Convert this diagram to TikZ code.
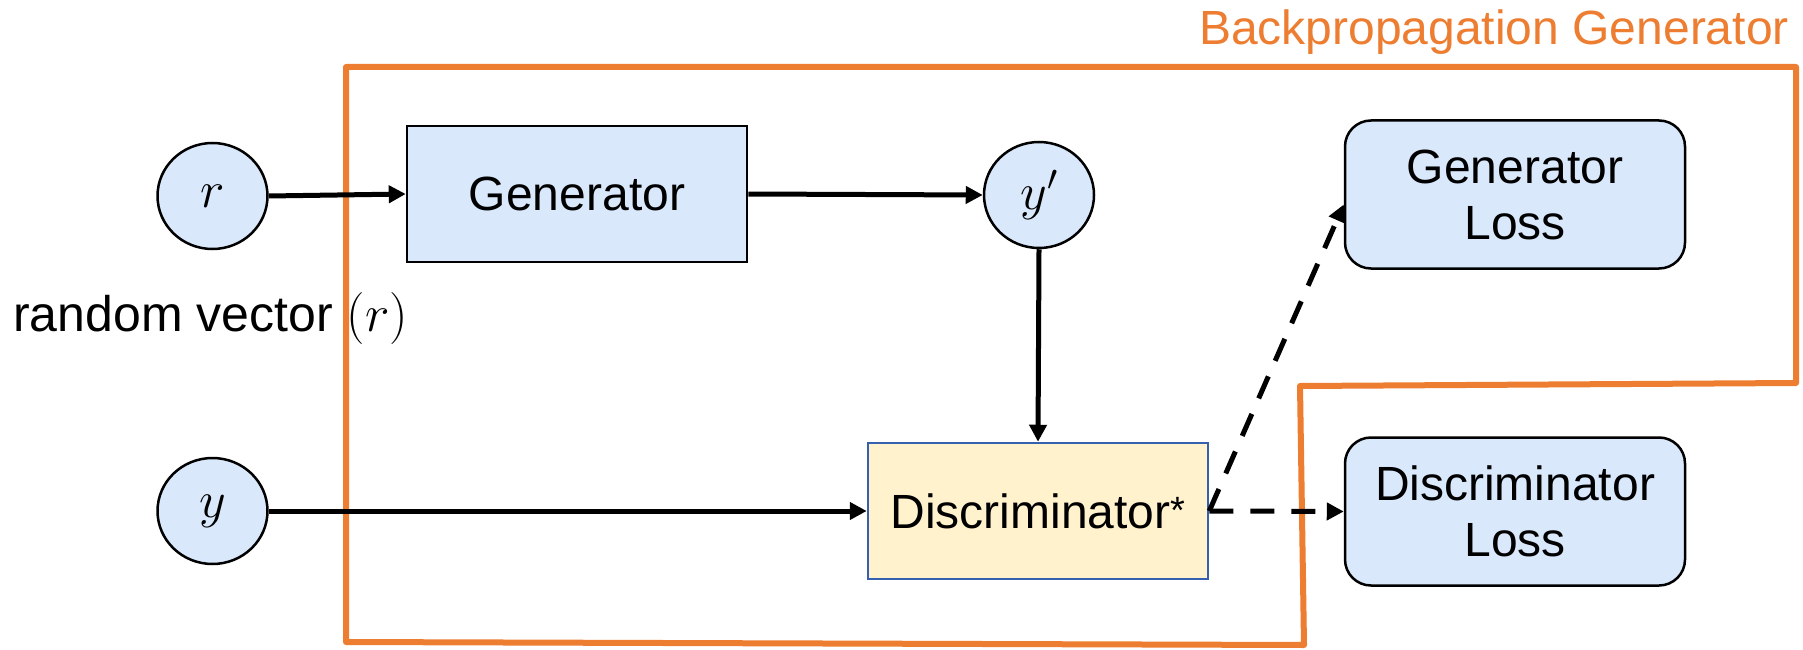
\RequirePackage{fix-cm}
\documentclass[tikz,border=0pt]{standalone}
\usepackage{fontspec}
\setmainfont{Liberation Sans}
\usetikzlibrary{arrows.meta,shapes.geometric}
\definecolor{blockblue}{HTML}{DAE8FC}
\definecolor{discfill}{HTML}{FFF2CC}
\definecolor{discedge}{HTML}{3560B0}
\definecolor{bporange}{HTML}{ED7D31}
\tikzset{
  base/.style={font=\fontsize{48}{56}\selectfont, inner sep=0pt, align=center},
  var/.style={base, font=\fontsize{52}{56}\selectfont, ellipse, draw=black,
    line width=2.5pt, fill=blockblue, minimum width=110pt, minimum height=106pt},
  blockbox/.style={base, rectangle, draw=black, line width=2.5pt, fill=blockblue,
    minimum width=340pt, minimum height=136pt},
  discbox/.style={base, rectangle, draw=discedge, line width=2.5pt, fill=discfill,
    minimum width=340pt, minimum height=136pt},
  lossbox/.style={base, rectangle, rounded corners=26pt, draw=black, line width=2.5pt,
    fill=blockblue, minimum width=340pt, minimum height=148pt},
  flow/.style={line width=5pt, -{Triangle[length=17pt,width=17pt]}},
  lossflow/.style={flow, dash pattern=on 24pt off 17pt},
  bpframe/.style={draw=bporange, line width=6pt, line join=round}
}
\begin{document}
\begin{tikzpicture}[x=1pt, y=-1pt]
\useasboundingbox (0,0) rectangle (1803,650);

% backpropagation region
\draw[bpframe] (346,67) -- (1796,67) -- (1796,383) -- (1300,386)
  -- (1304,645) -- (346,642) -- cycle;
\node[base, text=bporange, anchor=base east] (bplabel) at (1789,45)
  {Backpropagation Generator};

% inputs
\node[var] (r) at (212.5,196) {$r$};
\node[var] (y) at (212.5,511) {$y$};
\node[base, font=\fontsize{50}{56}\selectfont, anchor=base west] (rlabel) at (13,331)
  {random vector\hspace{14pt}{\fontsize{52}{56}\selectfont$(r)$}};

% network blocks
\node[blockbox] (gen) at (577,194) {Generator};
\node[var] (yp) at (1039,195) {$y'$};
\node[discbox] (disc) at (1038,511)
  {Discriminator\raisebox{5pt}{\fontsize{38}{38}\selectfont*}};

% losses
\node[lossbox] (gl) at (1515,194.5) {Generator\\Loss};
\node[lossbox] (dl) at (1515,511.5) {Discriminator\\Loss};

% connectors
\draw[flow] (r.east) -- (gen.west);
\draw[flow] (gen.east) -- (yp.west);
\draw[flow] (yp.south) -- (disc.north);
\draw[flow] (y.east) -- (disc.west);
\draw[lossflow] (disc.east) -- ([yshift=-10pt]gl.west);
\draw[lossflow] (disc.east) -- (dl.west);
\end{tikzpicture}
\end{document}
